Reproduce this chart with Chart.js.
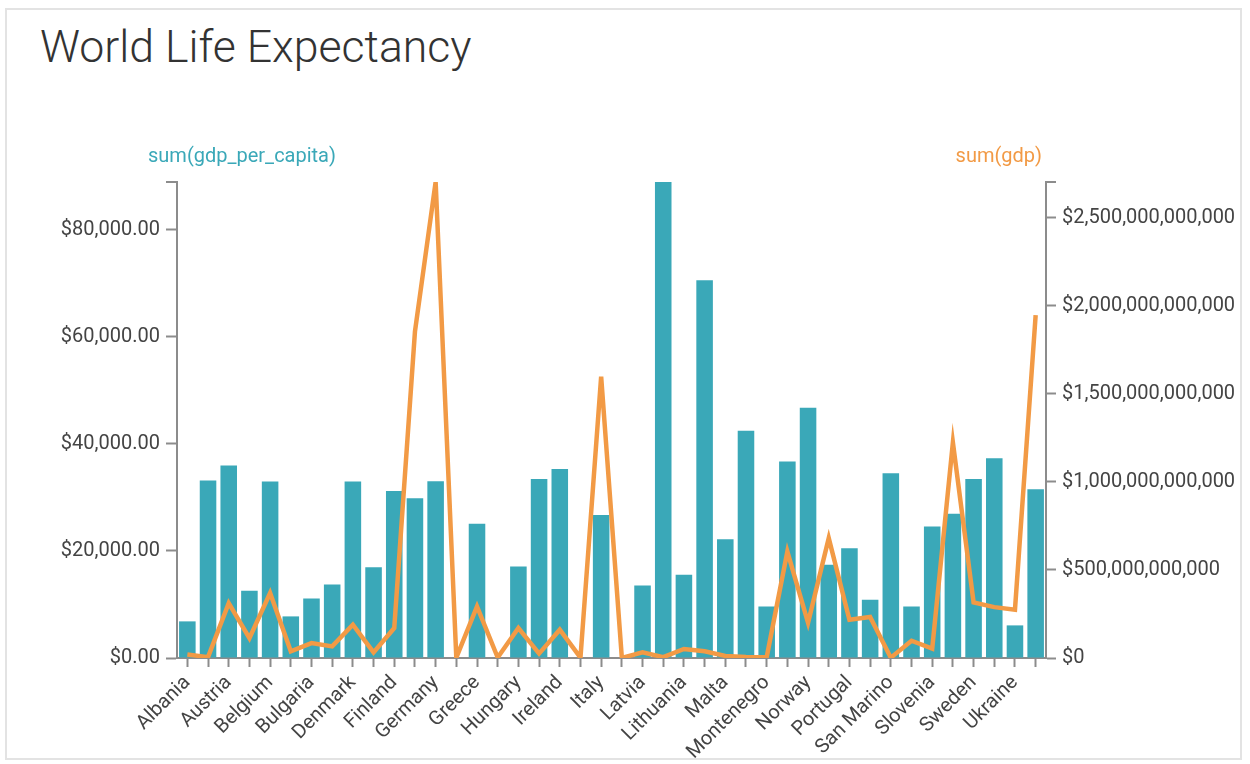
<!DOCTYPE html>
<html>
<head>
<meta charset="utf-8">
<title>World Life Expectancy</title>
<script src="https://cdn.jsdelivr.net/npm/chart.js@4.4.1/dist/chart.umd.min.js"></script>
<style>
  html, body { margin: 0; padding: 0; background: #fff; }
  #card {
    position: absolute; left: 5px; top: 8px; width: 1237px; height: 752px;
    box-sizing: border-box; border: 2px solid #e3e3e3; background: #fff;
  }
  #title {
    position: absolute; left: 40px; top: 25px; margin: 0;
    font-family: Roboto, "Open Sans", sans-serif; font-weight: 300;
    font-size: 44.6px; line-height: 44px; color: #333;
  }
  #chart { position: absolute; left: 0; top: 0; }
</style>
</head>
<body>
<div id="card"></div>
<h1 id="title">World Life Expectancy</h1>
<canvas id="chart" width="1250" height="764"></canvas>
<script>
const countries = [
  "Albania", "Andorra", "Austria", "Belarus", "Belgium", "Bosnia and Herzegovina",
  "Bulgaria", "Croatia", "Denmark", "Estonia", "Finland", "France", "Germany",
  "Gibraltar", "Greece", "Holy See", "Hungary", "Iceland", "Ireland", "Isle of Man",
  "Italy", "Kosovo", "Latvia", "Liechtenstein", "Lithuania", "Luxembourg", "Malta",
  "Monaco", "Montenegro", "Netherlands", "Norway", "Poland", "Portugal", "Romania",
  "San Marino", "Serbia", "Slovenia", "Spain", "Sweden", "Switzerland", "Ukraine",
  "United Kingdom"
];

// sum(gdp_per_capita), US$
const gdpPerCapita = [
  6840, 33140, 35930, 12560, 32950, 7770, 11130, 13740, 32950, 16970, 31210, 29840, 33010,
  0, 25050, 0, 17100, 33450, 35310, 0, 26730, 0, 13550, 88900, 15540, 70560, 22200,
  42460, 9640, 36680, 46750, 17410, 20520, 10880, 34500, 9640, 24560, 26920, 33450,
  37300, 6090, 31520
];

// sum(gdp), billions of US$
const gdpBillions = [
  20, 5, 312, 113, 369, 38, 85, 66, 189, 32, 170, 1853, 2704,
  2, 293, 3, 170, 25, 161, 2, 1598, 1, 32, 5, 51, 38, 12,
  5, 4, 605, 200, 681, 217, 233, 2, 98, 53, 1224, 316,
  289, 274, 1948
];
const gdp = gdpBillions.map(v => v * 1e9);

// tick values of the two value axes
const leftTicks = [0, 20000, 40000, 60000, 80000];
const rightTicks = [0, 500e9, 1000e9, 1500e9, 2000e9, 2500e9];

const teal = "#3aa8b8";
const orange = "#f29a45";
const axisColor = "#8c8c8c";
const labelColor = "#444";
const fontFamily = "Roboto, 'Open Sans', sans-serif";

const axisTitles = {
  id: "axisTitles",
  afterDraw(chart) {
    const { ctx, chartArea } = chart;
    ctx.save();
    ctx.font = "20px " + fontFamily;
    ctx.textBaseline = "middle";
    ctx.fillStyle = teal;
    ctx.textAlign = "left";
    ctx.fillText("sum(gdp_per_capita)", chartArea.left - 29, 157);
    ctx.fillStyle = orange;
    ctx.textAlign = "right";
    ctx.fillText("sum(gdp)", chartArea.right - 4, 157);
    // outer ticks at the top end of both value axes
    ctx.strokeStyle = axisColor;
    ctx.lineWidth = 2;
    ctx.beginPath();
    ctx.moveTo(chartArea.left - 11, chartArea.top);
    ctx.lineTo(chartArea.left, chartArea.top);
    ctx.moveTo(chartArea.right, chartArea.top);
    ctx.lineTo(chartArea.right + 10, chartArea.top);
    ctx.stroke();
    ctx.restore();
  }
};

new Chart(document.getElementById("chart"), {
  type: "bar",
  plugins: [axisTitles],
  data: {
    labels: countries,
    datasets: [
      {
        type: "line",
        label: "sum(gdp)",
        data: gdp,
        yAxisID: "y1",
        borderColor: orange,
        borderWidth: 4.5,
        borderJoinStyle: "miter",
        tension: 0,
        pointRadius: 0,
        fill: false,
        order: 0
      },
      {
        type: "bar",
        label: "sum(gdp_per_capita)",
        data: gdpPerCapita,
        yAxisID: "y",
        backgroundColor: teal,
        categoryPercentage: 1,
        barPercentage: 0.8,
        order: 1
      }
    ]
  },
  options: {
    responsive: false,
    animation: false,
    devicePixelRatio: 1,
    layout: { padding: { top: 182, left: 0, right: 0, bottom: 0 } },
    plugins: {
      legend: { display: false },
      tooltip: { enabled: false },
      title: { display: false }
    },
    scales: {
      x: {
        offset: true,
        grid: { offset: false, drawOnChartArea: false, drawTicks: true, tickLength: 9, tickColor: axisColor, tickWidth: 2 },
        border: { color: axisColor, width: 2 },
        ticks: {
          autoSkip: false,
          minRotation: 45,
          maxRotation: 45,
          padding: 4,
          color: labelColor,
          font: { family: fontFamily, size: 20 },
          callback: (v, i) => (i % 2 === 0 ? countries[i] : "")
        },
        afterFit(scale) { scale.height = 106; }
      },
      y: {
        position: "left",
        min: 0,
        max: Math.max(...gdpPerCapita),
        grid: { drawOnChartArea: false, drawTicks: true, tickLength: 11, tickColor: axisColor, tickWidth: 2 },
        border: { color: axisColor, width: 2 },
        ticks: {
          padding: 6,
          color: labelColor,
          font: { family: fontFamily, size: 20 },
          callback: v => "$" + v.toLocaleString("en-US", { minimumFractionDigits: 2, maximumFractionDigits: 2 })
        },
        afterBuildTicks(scale) { scale.ticks = leftTicks.map(v => ({ value: v })); },
        afterFit(scale) { scale.width = 177; }
      },
      y1: {
        position: "right",
        min: 0,
        max: Math.max(...gdp),
        grid: { drawOnChartArea: false, drawTicks: true, tickLength: 10, tickColor: axisColor, tickWidth: 2 },
        border: { color: axisColor, width: 2 },
        ticks: {
          padding: 6,
          color: labelColor,
          font: { family: fontFamily, size: 20 },
          callback: v => "$" + v.toLocaleString("en-US")
        },
        afterBuildTicks(scale) { scale.ticks = rightTicks.map(v => ({ value: v })); },
        afterFit(scale) { scale.width = 204; }
      }
    }
  }
});
</script>
</body>
</html>
